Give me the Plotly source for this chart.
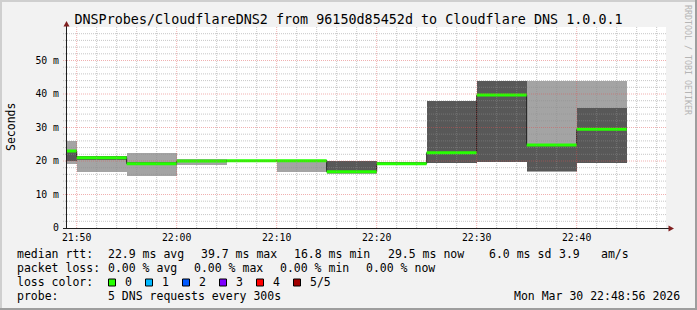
import numpy as np
import pandas as pd
import plotly.graph_objects as go

# ---------------- data ----------------
step_start = ["2026-03-30 21:45:00", "2026-03-30 21:50:00", "2026-03-30 21:55:00",
              "2026-03-30 22:00:00", "2026-03-30 22:05:00", "2026-03-30 22:10:00",
              "2026-03-30 22:15:00", "2026-03-30 22:20:00", "2026-03-30 22:25:00",
              "2026-03-30 22:30:00", "2026-03-30 22:35:00", "2026-03-30 22:40:00"]
# sorted ping round trip times per step (ms)
ping1 = [19.2, 16.8, 15.4, 18.8, 19.9, 16.8, 16.0, 19.0, 19.3, 19.8, 16.8, 19.3]
ping2 = [20.0, 20.2, 18.9, 19.8, 20.0, 20.0, 16.8, 19.0, 19.3, 19.8, 16.9, 19.3]
median_rtt = [23.0, 21.0, 19.2, 20.0, 20.1, 20.1, 16.8, 19.2, 22.5, 39.7, 24.8, 29.5]
ping4 = [23.3, 21.4, 19.6, 20.1, 20.1, 20.1, 20.0, 19.8, 37.9, 43.8, 24.9, 35.9]
ping5 = [26.0, 21.4, 22.4, 20.6, 20.2, 20.2, 20.0, 19.8, 37.9, 43.8, 43.8, 43.8]
loss_count = [0, 0, 0, 0, 0, 0, 0, 0, 0, 0, 0, 0]

view_start = "2026-03-30 21:48:56"
view_end = "2026-03-30 22:48:56"

y_tick_vals = [0, 10, 20, 30, 40, 50]
y_tick_text = ["0", "10 m", "20 m", "30 m", "40 m", "50 m"]

title_text = "DNSProbes/CloudflareDNS2 from 96150d85452d to Cloudflare DNS 1.0.0.1"
y_title = "Seconds"
watermark = "RRDTOOL / TOBI OETIKER"

rtt_label = "median rtt:"
rtt_values = ["22.9 ms avg", "39.7 ms max", "16.8 ms min", "29.5 ms now", "6.0 ms sd", "3.9", "am/s"]
loss_label = "packet loss:"
loss_values = ["0.00 % avg", "0.00 % max", "0.00 % min", "0.00 % now"]
color_label = "loss color:"
loss_names = ["0", "1", "2", "3", "4", "5/5"]
loss_colors = ["#26ff00", "#00b8ff", "#0059ff", "#7e00ff", "#ff0000", "#a10000"]
probe_label = "probe:"
probe_text = "5 DNS requests every 300s"
stamp_text = "Mon Mar 30 22:48:56 2026"

# ---------------- geometry helpers ----------------
W, H = 697, 310
ML, MR, MT, MB = 66, 31, 27, 82
PW, PH = W - ML - MR, H - MT - MB
BOTTOM = H - MB


def px(x):
    return (x - ML) / PW


def py(y):
    return (BOTTOM - y) / PH


MONO = "DejaVu Sans Mono"
STEP = pd.Timedelta(seconds=300)
starts = pd.to_datetime(step_start)
ends = starts + STEP
centers = starts + STEP / 2

p1 = np.array(ping1)
p2 = np.array(ping2)
p4 = np.array(ping4)
p5 = np.array(ping5)

fig = go.Figure()

# smoke (outer and inner)
fig.add_trace(go.Bar(x=centers, base=p1, y=p5 - p1, width=STEP.total_seconds() * 1000,
                     marker=dict(color="#a4a4a4", line=dict(width=0)), hoverinfo="skip"))
fig.add_trace(go.Bar(x=centers, base=p2, y=p4 - p2, width=STEP.total_seconds() * 1000,
                     marker=dict(color="#585858", line=dict(width=0)), hoverinfo="skip"))

# thin dark median step line
mx = list(starts) + [ends[-1]]
my = list(median_rtt) + [median_rtt[-1]]
fig.add_trace(go.Scatter(x=mx, y=my, mode="lines",
                         line=dict(shape="hv", color="#202020", width=1), hoverinfo="skip"))

# loss-coloured median segments
for li, lc in enumerate(loss_colors):
    xs, ys = [], []
    for s, e, m, l in zip(starts, ends, median_rtt, loss_count):
        if l == li:
            xs += [s, e, None]
            ys += [m, m, None]
    if xs:
        fig.add_trace(go.Scatter(x=xs, y=ys, mode="lines",
                                 line=dict(color=lc, width=3), hoverinfo="skip"))

shapes = []
# grid on top (rrdtool style)
minor_col = "rgba(143,143,143,0.5)"
major_col = "rgba(222,79,79,0.45)"
t0 = pd.Timestamp("2026-03-30 21:50:00")
for k in range(-0, 30):
    t = t0 + pd.Timedelta(minutes=2 * k)
    if t > pd.Timestamp(view_end):
        break
    major = (k % 5 == 0)
    shapes.append(dict(type="line", xref="x", yref="paper", x0=t, x1=t, y0=0, y1=1,
                       line=dict(color=major_col if major else minor_col, width=1, dash="1px,1px"),
                       layer="above"))
for v in np.arange(2, 60, 2):
    major = (int(v) % 10 == 0)
    shapes.append(dict(type="line", xref="paper", yref="y", x0=px(63), x1=1, y0=v, y1=v,
                       line=dict(color=major_col if major else minor_col, width=1, dash="1px,1px"),
                       layer="above"))

# axes with arrows
axis_col = "#1f1f1f"
arrow_col = "#801f1f"
shapes.append(dict(type="line", xref="paper", yref="paper", x0=px(66.5), x1=px(66.5),
                   y0=py(BOTTOM + 0.5), y1=py(25), line=dict(color=axis_col, width=1), layer="above"))
shapes.append(dict(type="line", xref="paper", yref="paper", x0=px(63), x1=px(670),
                   y0=py(BOTTOM + 0.5), y1=py(BOTTOM + 0.5), line=dict(color=axis_col, width=1), layer="above"))
shapes.append(dict(type="path", xref="paper", yref="paper",
                   path=f"M {px(66.5)},{py(21)} L {px(63.5)},{py(26.5)} L {px(69.5)},{py(26.5)} Z",
                   fillcolor=arrow_col, line=dict(width=0), layer="above"))
shapes.append(dict(type="path", xref="paper", yref="paper",
                   path=f"M {px(674)},{py(BOTTOM + 0.5)} L {px(668.5)},{py(BOTTOM - 2.5)} L {px(668.5)},{py(BOTTOM + 3.5)} Z",
                   fillcolor=arrow_col, line=dict(width=0), layer="above"))

# 3D border of the image
shade_a = "#cfcfcf"
shade_b = "#9e9e9e"
shapes.append(dict(type="rect", xref="paper", yref="paper", x0=px(0), x1=px(W), y0=py(0), y1=py(2),
                   fillcolor=shade_a, line=dict(width=0), layer="above"))
shapes.append(dict(type="rect", xref="paper", yref="paper", x0=px(0), x1=px(2), y0=py(0), y1=py(H),
                   fillcolor=shade_a, line=dict(width=0), layer="above"))
shapes.append(dict(type="rect", xref="paper", yref="paper", x0=px(0), x1=px(W), y0=py(H - 2), y1=py(H),
                   fillcolor=shade_b, line=dict(width=0), layer="above"))
shapes.append(dict(type="rect", xref="paper", yref="paper", x0=px(W - 2), x1=px(W), y0=py(0), y1=py(H),
                   fillcolor=shade_b, line=dict(width=0), layer="above"))

annotations = []


def txt(s, x, y, size=11.5, anchor="left", color="#000000", angle=0):
    annotations.append(dict(text=s, xref="paper", yref="paper", x=px(x), y=py(y),
                            xanchor=anchor, yanchor="middle", showarrow=False, borderpad=0,
                            textangle=angle, font=dict(family=MONO, size=size, color=color)))


# legend rows
row_y = [254, 268.3, 282.3, 296.3]
txt(rtt_label, 16, row_y[0])
for s, x in zip(rtt_values, [107.3, 200, 293.3, 386.7, 488.3, 557.7, 600]):
    txt(s, x, row_y[0])
txt(loss_label, 16, row_y[1])
for s, x in zip(loss_values, [107.3, 193.3, 279.3, 365]):
    txt(s, x, row_y[1])
txt(color_label, 16, row_y[2])
for i, (name, col) in enumerate(zip(loss_names, loss_colors)):
    bx = 108.5 + 37 * i
    shapes.append(dict(type="rect", xref="paper", yref="paper", x0=px(bx), x1=px(bx + 7),
                       y0=py(286), y1=py(279), fillcolor=col,
                       line=dict(color="#000000", width=1), layer="above"))
    txt(name, bx + 15, row_y[2])
txt(probe_label, 16, row_y[3])
txt(probe_text, 107.3, row_y[3])
txt(stamp_text, 681, row_y[3], anchor="right")

# y title and watermark
txt(y_title, 10.5, 127.5, size=11.5, anchor="center", angle=-90)
txt(watermark, 688, 60, size=8.3, anchor="center", color="#b5b5b5", angle=90)

fig.update_layout(
    width=W, height=H,
    margin=dict(l=ML, r=MR, t=MT, b=MB, pad=0),
    paper_bgcolor="#f2f2f2", plot_bgcolor="#ffffff",
    barmode="overlay", bargap=0, showlegend=False,
    title=dict(text=title_text, x=0.5, xref="container", xanchor="center",
               y=1 - 19 / H, yref="container", yanchor="middle",
               font=dict(family=MONO, size=13.4, color="#000000")),
    xaxis=dict(type="date", range=[view_start, view_end], showgrid=False, zeroline=False,
               showline=False, tick0="2026-03-30 21:50:00", dtick=600000, tickformat="%H:%M",
               ticks="", tickfont=dict(family=MONO, size=9.8, color="#000000"),
               ticklabelstandoff=2),
    yaxis=dict(range=[0, 60], showgrid=False, zeroline=False, showline=False,
               tickvals=y_tick_vals, ticktext=y_tick_text, ticks="",
               tickfont=dict(family=MONO, size=9.8, color="#000000"),
               ticklabelstandoff=6),
    shapes=shapes, annotations=annotations,
)

fig.write_html("out.html")
